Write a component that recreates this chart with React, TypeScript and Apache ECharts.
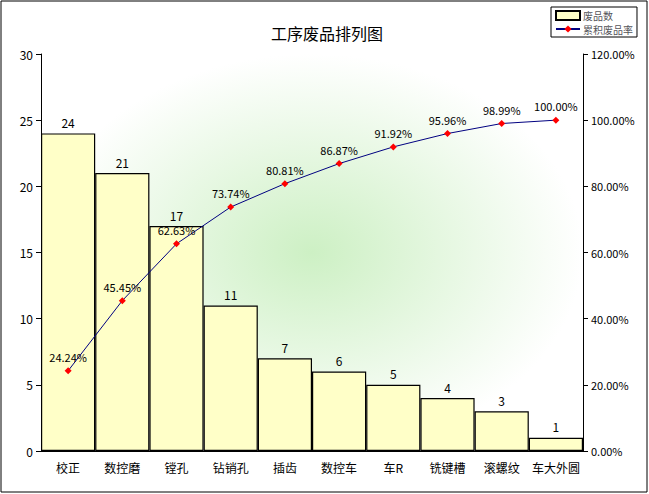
import React, { useEffect, useRef } from "react";
import * as echarts from "echarts";

const categories = ["校正", "数控磨", "镗孔", "钻销孔", "插齿", "数控车", "车R", "铣键槽", "滚螺纹", "车大外圆"];
const counts = [24, 21, 17, 11, 7, 6, 5, 4, 3, 1];
const cumPct = [24.24, 45.45, 62.63, 73.74, 80.81, 86.87, 91.92, 95.96, 98.99, 100.0];

export default function App() {
  const ref = useRef<HTMLDivElement>(null);
  useEffect(() => {
    document.body.style.margin = "0";
    const chart = echarts.init(ref.current!, null, { renderer: "svg" });
    const font = "SimSun, 'Noto Sans CJK SC', sans-serif";
    chart.setOption({
      animation: false,
      backgroundColor: "#fff",
      textStyle: { fontFamily: font, color: "#000" },
      title: { text: "工序废品排列图", left: 322, top: 20, textAlign: "center", textStyle: { fontSize: 16, fontWeight: "normal", color: "#000", fontFamily: font } },
      graphic: [
        { type: "rect", shape: { x: 1, y: 1, width: 646, height: 491 }, style: { fill: "none", stroke: "#000", lineWidth: 1 }, z: -10 },
        { type: "rect", shape: { x: 41, y: 54, width: 542, height: 397 }, style: { fill: new echarts.graphic.RadialGradient(0.5, 0.5, 0.5, [{ offset: 0, color: "#cdf0c4" }, { offset: 1, color: "#ffffff" }]) }, z: -5 },
      ],
      legend: {
        left: 551, top: 7, orient: "vertical", itemGap: 3, itemWidth: 24, itemHeight: 9,
        padding: [3, 4, 3, 4],
        backgroundColor: "#fff", borderColor: "#000", borderWidth: 1, borderRadius: 0,
        textStyle: { fontSize: 10, fontFamily: font, padding: [0, 0, 0, -2] },
        data: [
          { name: "废品数", icon: "rect" },
          { name: "累积废品率" },
        ],
      },
      grid: { left: 41, right: 66, top: 54, bottom: 43 },
      xAxis: {
        type: "category", data: categories, boundaryGap: true,
        axisLine: { lineStyle: { color: "#000" } }, axisTick: { show: false },
        axisLabel: { color: "#000", fontSize: 12, margin: 10, interval: 0, fontFamily: font },
      },
      yAxis: [
        { type: "value", min: 0, max: 30, interval: 5, splitLine: { show: false },
          axisLine: { show: true, lineStyle: { color: "#000" } }, axisTick: { show: true },
          axisLabel: { color: "#000", fontSize: 12 } },
        { type: "value", min: 0, max: 120, interval: 20, splitLine: { show: false },
          axisLine: { show: true, lineStyle: { color: "#000" } }, axisTick: { show: true },
          axisLabel: { color: "#000", fontSize: 11, formatter: (v: number) => v.toFixed(2) + "%" } },
      ],
      series: [
        { name: "废品数", type: "bar", data: counts, barCategoryGap: "0%",
          itemStyle: { color: "#ffffc8", borderColor: "#000", borderWidth: 1.2 },
          label: { show: true, position: "top", color: "#000", fontSize: 12 } },
        { name: "累积废品率", type: "line", yAxisIndex: 1, data: cumPct,
          symbol: "diamond", symbolSize: 7, lineStyle: { color: "#000080", width: 1 },
          itemStyle: { color: "#ff0000" },
          label: { show: true, position: "top", color: "#000", fontSize: 11, formatter: (p: any) => p.value.toFixed(2) + "%" } },
      ],
    });
    return () => chart.dispose();
  }, []);
  return <div ref={ref} style={{ width: 649, height: 494 }} />;
}
